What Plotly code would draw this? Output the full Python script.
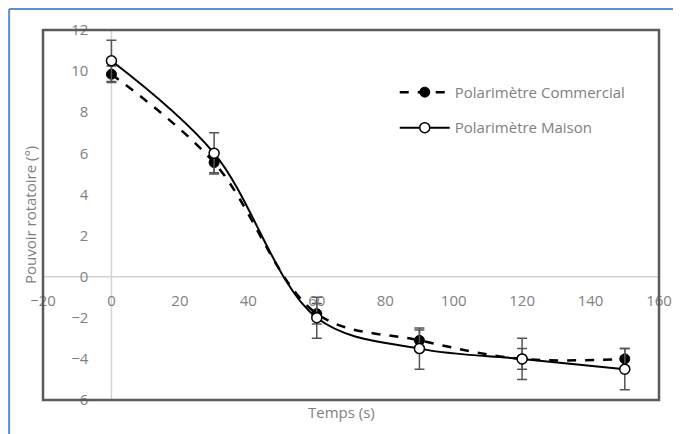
import plotly.graph_objects as go

# Data
temps = [0, 30, 60, 90, 120, 150]
commercial = [9.85, 5.55, -1.8, -3.1, -4.0, -4.0]
commercial_err = [0.4, 0.5, 0.5, 0.5, 0.5, 0.5]
maison = [10.5, 6.0, -2.0, -3.5, -4.0, -4.5]
maison_err = [1.0, 1.0, 1.0, 1.0, 1.0, 1.0]

x_range = [-20, 160]
y_range = [-6, 12]
x_ticks = list(range(-20, 161, 20))
y_ticks = list(range(-6, 13, 2))

font_family = "'Open Sans', Lato, sans-serif"
grey_text = "#808080"

fig = go.Figure()

fig.add_trace(go.Scatter(
    x=temps, y=commercial,
    name="Polarimètre Commercial",
    mode="lines+markers",
    line=dict(color="black", width=2.5, dash="dash", shape="spline", smoothing=1),
    marker=dict(color="black", size=10, line=dict(color="black", width=1)),
    error_y=dict(type="data", array=commercial_err, color="#555555", thickness=1.5, width=5),
    legendgroup="a",
))

fig.add_trace(go.Scatter(
    x=temps, y=maison,
    name="Polarimètre Maison",
    mode="lines+markers",
    line=dict(color="black", width=2, shape="spline", smoothing=1),
    marker=dict(color="white", size=10, line=dict(color="black", width=1.5)),
    error_y=dict(type="data", array=maison_err, color="#555555", thickness=1.5, width=5),
    legendgroup="b",
))

# position of the axes lines at the zero of the other axis
x_axis_pos = (0 - y_range[0]) / (y_range[1] - y_range[0])
y_axis_pos = (0 - x_range[0]) / (x_range[1] - x_range[0])

fig.update_layout(
    width=681, height=434,
    margin=dict(l=35, r=30, t=22, b=42),
    paper_bgcolor="white",
    plot_bgcolor="white",
    font=dict(family=font_family, size=15, color=grey_text),
    showlegend=True,
    legend=dict(
        x=0.571, y=0.876, xanchor="left", yanchor="top",
        bgcolor="rgba(0,0,0,0)",
        font=dict(size=15, color=grey_text),
        tracegroupgap=13,
        itemwidth=50,
    ),
    xaxis=dict(
        range=x_range, tickvals=x_ticks,
        anchor="free", position=x_axis_pos,
        showgrid=False, zeroline=False,
        showline=False, automargin=False,
        ticks="outside", ticklen=10, tickcolor="rgba(0,0,0,0)",
        tickfont=dict(size=15, color=grey_text),
    ),
    yaxis=dict(
        range=y_range, tickvals=y_ticks,
        anchor="free", position=y_axis_pos,
        showgrid=False, zeroline=False,
        showline=False, automargin=False,
        ticks="outside", ticklen=20, tickcolor="rgba(0,0,0,0)",
        tickfont=dict(size=15, color=grey_text),
    ),
    shapes=[
        # zero lines
        dict(type="line", xref="x", yref="paper", x0=0, x1=0, y0=0, y1=1,
             line=dict(color="#d4d4d4", width=1.5), layer="below"),
        dict(type="line", xref="paper", yref="y", x0=0, x1=1, y0=0, y1=0,
             line=dict(color="#d4d4d4", width=1.5), layer="below"),
        # plot frame
        dict(type="rect", xref="paper", yref="paper", x0=0, x1=1, y0=0, y1=1,
             line=dict(color="#5a5a5a", width=2.5)),
        # blue outer border (top and left)
        dict(type="line", xref="paper", yref="paper", x0=-0.055, x1=1.2, y0=1.057, y1=1.057,
             line=dict(color="#5b8fd0", width=2)),
        dict(type="line", xref="paper", yref="paper", x0=-0.055, x1=-0.055, y0=1.057, y1=-0.2,
             line=dict(color="#5b8fd0", width=2)),
    ],
    annotations=[
        dict(text="Pouvoir rotatoire (°)", xref="paper", yref="paper",
             x=-0.021, y=0.5, xanchor="center", yanchor="middle",
             textangle=-90, showarrow=False,
             font=dict(size=15, color=grey_text)),
        dict(text="Temps (s)", xref="paper", yref="paper",
             x=0.485, y=-0.033, xanchor="center", yanchor="middle", showarrow=False,
             font=dict(size=15, color=grey_text)),
    ],
)

fig.write_html("out.html")
